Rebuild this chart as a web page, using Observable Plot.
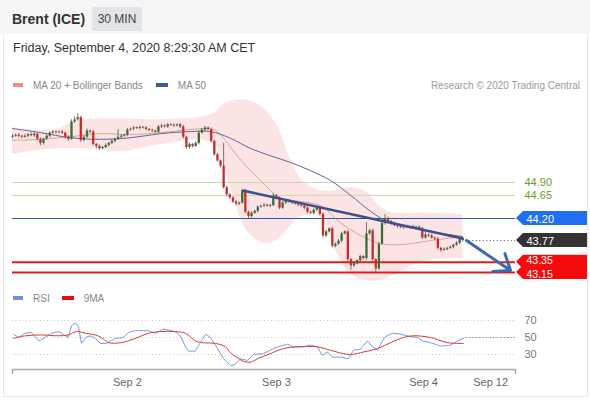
<!DOCTYPE html>
<html><head><meta charset="utf-8">
<script src="https://cdn.jsdelivr.net/npm/d3@7"></script>
<script src="https://cdn.jsdelivr.net/npm/@observablehq/plot@0.6"></script>
<style>
body{margin:0;width:590px;height:400px;position:relative;font-family:"Liberation Sans",Arial,sans-serif;background:#fff;overflow:hidden;color:#333}
.abs{position:absolute}
.hdr{left:0;top:0;width:590px;height:34px;background:#f5f5f5}
.title{left:12px;top:10px;font-weight:bold;font-size:14px;line-height:18px;color:#333}
.badge{left:92px;top:7px;width:50px;height:24px;background:#e1e4e8;font-size:12px;line-height:24px;text-align:center;color:#444}
.panel{left:3px;top:34px;width:583px;height:362px;border:1px solid #e8e8e8;border-top:none;background:#fff}
.date{left:13px;top:41px;font-size:12.5px;line-height:15px;color:#333}
.leg{font-size:10px;line-height:12px;color:#888;white-space:nowrap}
.sw{display:inline-block;width:10px;height:4px;vertical-align:middle;margin-right:10px;position:relative;top:-1px}
#main{left:0;top:95px}
#rsi{left:0;top:290px}
</style></head><body>
<div class="abs hdr"></div>
<div class="abs title">Brent (ICE)</div>
<div class="abs badge">30 MIN</div>
<div class="abs panel"></div>
<div class="abs date">Friday, September 4, 2020 8:29:30 AM CET</div>
<div class="abs leg" style="left:13px;top:80px"><span class="sw" style="background:#f08a8a"></span>MA 20 + Bollinger Bands<span class="sw" style="background:#3d5a99;margin-left:13px;width:12px"></span>MA 50</div>
<div class="abs leg" style="right:10px;top:80px;color:#9a9a9a">Research © 2020 Trading Central</div>
<div class="abs leg" style="left:13px;top:293px"><span class="sw" style="background:#6f8fdc"></span>RSI<span class="sw" style="background:#e01010;margin-left:12px;width:12px"></span>9MA</div>
<div class="abs" id="main"></div>
<div class="abs" id="rsi"></div>
<script>
// ---- data (30-min candles, index 0 = first bar on chart) ----
const firstOpen = 45.78;
const close = [45.80,45.82,45.80,45.78,45.80,45.83,45.81,45.84,45.74,45.66,
45.74,45.80,45.86,45.88,45.87,45.88,45.86,45.78,45.74,46.08,
46.12,46.16,45.72,45.78,45.90,45.88,45.64,45.60,45.56,45.58,
45.62,45.66,45.70,45.74,45.78,45.80,45.82,45.92,45.94,45.96,
45.95,45.97,45.96,45.93,45.91,45.90,45.88,45.98,46.00,45.98,
46.02,46.01,46.00,46.02,45.98,45.78,45.58,45.64,45.60,45.66,
45.86,45.92,45.96,45.93,45.70,45.44,45.32,45.22,44.80,44.66,
44.60,44.52,44.48,44.50,44.74,44.32,44.24,44.30,44.34,44.42,
44.44,44.46,44.44,44.45,44.64,44.60,44.40,44.50,44.54,44.52,
44.50,44.48,44.46,44.44,44.40,44.32,44.30,44.36,44.40,44.28,
43.86,43.94,44.00,43.66,43.70,43.76,43.90,43.94,43.40,43.28,
43.32,43.38,43.46,43.42,43.90,43.96,43.40,43.22,43.70,44.10,
44.20,44.14,44.10,44.06,44.04,44.02,44.04,44.02,44.04,44.02,
44.03,44.00,43.82,43.88,43.86,43.82,43.80,43.62,43.58,43.60,
43.62,43.64,43.68,43.72,43.80,43.77];
const wickUp = [3,2,3,2,3,2,4,3,2,3, 2,3,2,3,2,2,3,2,3,4, 6,8,3,3,4,2,3,2,3,2,
3,2,3,2,15,3,2,3,2,3, 2,3,2,3,2,3,2,3,3,2, 3,2,3,2,3,3,2,3,2,3,
4,3,3,2,3,2,3,2,44,3, 3,2,3,2,3,3,2,3,2,3, 2,3,2,3,5,3,2,3,2,3,
2,3,2,3,2,3,2,3,2,3, 3,3,2,3,2,3,3,2,3,2, 3,2,3,2,22,3,3,2,3,4,
8,3,2,3,2,3,2,3,2,3, 2,3,3,8,2,3,2,3,2,3, 2,3,2,3,3,2];
const wickDn = [3,2,3,3,2,3,2,3,3,4, 3,2,3,2,3,2,3,3,4,2, 3,2,4,3,2,3,3,4,3,2,
2,3,2,3,2,3,2,3,2,3, 2,3,2,3,2,3,3,2,3,2, 3,2,3,2,3,3,4,3,3,2,
3,2,3,2,3,3,2,3,3,4, 3,3,4,3,2,3,6,3,2,3, 2,3,2,3,2,3,3,2,3,2,
3,2,3,2,3,3,2,3,2,3, 4,3,2,3,3,2,3,2,3,9, 3,2,3,2,3,3,3,7,3,2,
3,2,3,2,3,2,3,2,3,2, 3,2,3,2,3,2,3,3,4,2, 3,2,3,2,3,3];
// Bollinger band [index, lower, upper]
const bollinger = [[0,45.44,45.97],[8,45.52,45.91],[15.5,45.56,45.95],[19,45.56,46.07],[23,45.56,46.12],
[35,45.50,46.14],[44.5,45.60,46.12],[54.5,45.70,46.14],[62,45.72,46.18],[65.5,45.60,46.26],
[67.5,45.33,46.40],[71,44.65,46.49],[75,44.01,46.51],[79,43.77,46.42],[82.5,43.71,46.24],
[86,43.81,45.91],[89,44.01,45.42],[92,44.20,45.04],[94.5,44.26,44.88],[99,44.24,44.74],
[104,43.58,44.74],[109,43.11,44.80],[114,42.99,44.71],[118,42.99,44.45],[122,43.07,44.32],
[131.5,43.36,44.30],[145,43.42,44.28]];
const ma20 = [[0,45.72],[9,45.74],[18.7,45.79],[28.3,45.85],[38,45.83],[47.7,45.87],[57.3,45.93],
[62.2,45.95],[65.4,45.91],[68.6,45.72],[71.8,45.46],[76.7,45.13],[81.5,44.84],[86.3,44.59],
[92.8,44.53],[99.2,44.45],[105.6,44.12],[112.1,43.87],[118.5,43.71],[125,43.69],[134.6,43.77],[144.9,43.85]];
const ma50 = [[0,45.95],[9,45.87],[18.7,45.77],[28.3,45.74],[38,45.77],[47.7,45.85],[57.3,45.89],
[63.8,45.89],[70.2,45.76],[76.7,45.56],[83.1,45.42],[89.5,45.29],[96,45.13],[102.4,44.94],
[108.9,44.65],[115.3,44.34],[120.1,44.16],[128.2,44.03],[136.2,43.93],[144.9,43.85]];
const trendline = [[74.4,44.74],[145,43.81]];
const projection = [[146.2,43.77],[160.4,43.19]];
const resistances = [44.90, 44.65];
const pivot = 44.20;
const supports = [43.35, 43.15];
const lastPrice = 43.77;
const rsi = [[0.3,54],[2,50],[4,55],[6,56],[8.5,46],[10.5,50],[12.5,55],[15,57],[17,52],[18,50],
[19,64],[20.3,67],[21.3,62],[22.2,43],[23.5,50],[25,52],[26.7,49],[28.3,43],[30.3,43],[33,49],
[35.7,50],[37.4,56],[39.6,58],[43.8,58],[46,55],[48.6,60],[51.2,58],[52.8,56],[54.4,50],[55.7,39],
[56.7,34],[58.9,34],[60.5,44],[62.2,54],[63.8,50],[65.7,39],[68,25],[70.2,17],[71.5,18],[73.5,25],
[75.7,23],[77.6,30],[80.8,31],[84,37],[86.3,40],[88.6,42],[90.5,39],[93.7,39],[96,41],[98.2,39],
[99.8,29],[101.4,33],[103,27],[105.6,27],[108.2,25],[109.8,35],[112.1,36],[114.3,46],[116,39],[117.6,35],
[118.5,42],[120.1,51],[122.4,55],[125,54],[128.2,51],[130.4,50],[132,46],[134.6,44],[137.8,40],[141.1,41],
[143.3,46],[145.3,49]];
const rsiMA9 = [[0.3,49],[4.2,52],[9.3,53],[14.8,52],[18,53],[20.6,57],[23.5,55],[26.7,53],[28.6,50],[30.9,44],
[35.1,44],[39.6,49],[43.8,55],[48,57],[52.5,57],[55.7,55],[58.9,46],[60.8,44],[65.4,43],[68.6,39],
[70.2,32],[73,25],[74.4,22],[76.7,21],[78.9,25],[83,31],[87.3,37],[91.8,39],[98.2,39],[102.4,35],
[106.6,31],[108.9,30],[113.1,33],[117.6,37],[121.8,44],[126,50],[129,52],[134.6,50],[140,44],[145.3,43]];
const rsiLevels = [70, 50, 30];
const dateTicks = [37, 85, 132.4, 154];
const dateLabels = ["Sep 2", "Sep 3", "Sep 4", "Sep 12"];

// ---- layout helpers ----
const X0 = 0, X1 = 162;              // index domain of chart area
const xScale = {domain: [X0, X1], range: [12, 515]};
const px = p => (p - 12) * (X1 - X0) / (515 - 12); // pixel -> index (layout only)
const yPerPx = (44.90 - 43.15) / 90;

const candles = close.map((c, i) => {
  const o = i ? close[i - 1] : firstOpen;
  const top = Math.max(o, c), bot = Math.min(o, c);
  const b2 = top - bot < 0.014 ? bot + 0.014 : top;
  return {i, o, c, h: top + wickUp[i] / 100, l: bot - wickDn[i] / 100, b1: bot, b2, up: c >= o};
});

function box(v, color) {
  const hh = 7 * yPerPx;
  const pts = [{x: px(516), a: v, b: v}, {x: px(523), a: v - hh, b: v + hh}, {x: px(587), a: v - hh, b: v + hh}];
  return Plot.areaY(pts, {x: "x", y1: "a", y2: "b", fill: color});
}
function boxText(v, dy = 0.5, size = 11) {
  return Plot.text([v], {x: () => px(526), y: d => d, text: d => d.toFixed(2), fill: "#fff", textAnchor: "start", fontSize: size, dy});
}

const main = Plot.plot({
  width: 590, height: 190, margin: 0,
  x: {...xScale, axis: null},
  y: {domain: [43.15, 44.90], range: [177, 87], axis: null},
  style: {fontFamily: "Liberation Sans, Arial, sans-serif", overflow: "visible"},
  marks: [
    Plot.areaY(bollinger, {x: d => d[0], y1: d => d[1], y2: d => d[2], fill: "#f7b5b5", fillOpacity: 0.36, curve: "catmull-rom"}),
    Plot.ruleY(resistances, {x1: () => X0, x2: () => X1, stroke: "#cdd6ac", strokeWidth: 1}),
    Plot.ruleY([pivot], {x1: () => X0, x2: () => X1, stroke: "#2c56b0", strokeWidth: 1}),
    Plot.ruleY(supports, {x1: () => X0, x2: () => X1, stroke: "#e31b1b", strokeWidth: 2}),
    Plot.ruleY([lastPrice], {x1: () => 146, x2: () => X1, stroke: "#444", strokeDasharray: "1,2.5"}),
    Plot.line(ma20, {x: d => d[0], y: d => d[1], stroke: "#dba593", strokeWidth: 1, curve: "catmull-rom"}),
    Plot.line(ma50, {x: d => d[0], y: d => d[1], stroke: "#5a68a0", strokeWidth: 1, curve: "catmull-rom"}),
    Plot.ruleX(candles, {x: "i", y1: "l", y2: "h", stroke: "#555", strokeWidth: 0.8}),
    Plot.ruleX(candles, {x: "i", y1: "b1", y2: "b2", stroke: d => d.up ? "#3b6e34" : "#c62c2c", strokeWidth: 2.3}),
    Plot.line(trendline, {x: d => d[0], y: d => d[1], stroke: "#3c4f8e", strokeWidth: 2.6}),
    Plot.arrow([projection], {x1: d => d[0][0], y1: d => d[0][1], x2: d => d[1][0], y2: d => d[1][1], stroke: "#3d69ad", strokeWidth: 3, headLength: 13, headAngle: 75}),
    Plot.text(resistances, {x: () => px(524), y: d => d, text: d => d.toFixed(2), fill: "#6f9a2a", textAnchor: "start", fontSize: 11}),
    box(pivot, "#1f6ff0"), boxText(pivot),
    box(lastPrice, "#333333"), boxText(lastPrice),
    ...supports.map(v => box(v, "#f40c0c")),
    boxText(supports[0], -1.5, 10.5), boxText(supports[1], 2, 10.5)
  ]
});
document.getElementById("main").appendChild(main);

const rsiPlot = Plot.plot({
  width: 590, height: 105, margin: 0, marginBottom: 26,
  x: {...xScale, axis: null},
  y: {domain: [30, 70], range: [64, 30], axis: null},
  style: {fontFamily: "Liberation Sans, Arial, sans-serif", overflow: "visible"},
  marks: [
    Plot.ruleY(rsiLevels, {x1: () => X0, x2: () => X1, stroke: "#c8c8c8", strokeDasharray: "1,2.5"}),
    Plot.ruleY([50], {x1: () => 146, x2: () => X1, stroke: "#666", strokeDasharray: "1,2.5"}),
    Plot.line(rsi, {x: d => d[0], y: d => d[1], stroke: "#7d9be0", strokeWidth: 1}),
    Plot.line(rsiMA9, {x: d => d[0], y: d => d[1], stroke: "#d83a3a", strokeWidth: 1, curve: "catmull-rom"}),
    Plot.text(rsiLevels, {x: () => px(524), y: d => d, text: d => String(d), fill: "#777", textAnchor: "start", fontSize: 11}),
    Plot.ruleY([30 - 15 * 40 / 34], {x1: () => X0, x2: () => X1, stroke: "#aaa", strokeWidth: 1.5}),
    Plot.ruleX([X0, X1], {y1: () => 30 - 15 * 40 / 34, y2: () => 30 - 20 * 40 / 34, stroke: "#aaa", strokeWidth: 1.5}),
    Plot.axisX({ticks: dateTicks, tickFormat: d => dateLabels[dateTicks.indexOf(d)], tickSize: 0, tickPadding: 9, fontSize: 11, fill: "#666", stroke: "none"})
  ]
});
document.getElementById("rsi").appendChild(rsiPlot);
</script>
</body></html>
